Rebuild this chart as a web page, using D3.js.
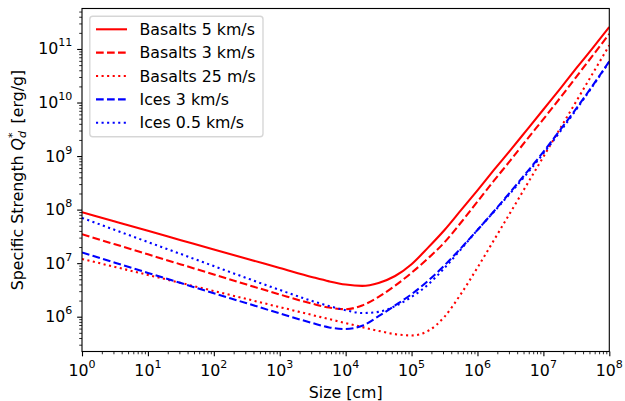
<!DOCTYPE html>
<html><head><meta charset="utf-8">
<script src="https://cdn.jsdelivr.net/npm/d3@7"></script>
<style>
body{margin:0;background:#fff}
text{font-family:"DejaVu Sans",sans-serif;fill:#000}
</style>
</head><body>
<svg id="c" width="625" height="401"></svg>
<script>
// Size [cm]
const sizes = [1, 3.162, 10, 31.62, 100, 316.2, 1000, 3162, 5623, 1e4, 17780, 31620, 56230, 1e5,
  177800, 316200, 562300, 1e6, 1.778e6, 3.162e6, 5.623e6, 1e7, 1.778e7, 3.162e7, 5.623e7, 1e8];
// Specific strength Q*_d [erg/g]
const basalt5kms = [8.95e7, 6.00e7, 4.02e7, 2.69e7, 1.80e7, 1.208e7, 8.13e6, 5.46e6, 4.57e6, 3.98e6, 3.76e6,
  4.27e6, 5.75e6, 9.55e6, 1.95e7, 4.17e7, 9.77e7, 2.29e8, 5.50e8, 1.29e9, 3.09e9, 7.41e9, 1.78e10, 4.37e10, 1.05e11, 2.57e11];
const basalt3kms = [3.47e7, 2.25e7, 1.46e7, 9.48e6, 6.17e6, 3.98e6, 2.60e6, 1.74e6, 1.48e6, 1.38e6, 1.62e6,
  2.34e6, 3.80e6, 6.61e6, 1.23e7, 2.45e7, 5.75e7, 1.41e8, 3.47e8, 8.32e8, 2.04e9, 4.90e9, 1.20e10, 3.02e10, 7.59e10, 1.91e11];
const basalt25ms = [1.20e7, 8.51e6, 6.03e6, 4.27e6, 3.02e6, 2.14e6, 1.51e6, 1.07e6, 9.02e5, 7.59e5, 6.40e5,
  5.43e5, 4.72e5, 4.47e5, 5.42e5, 1.00e6, 2.67e6, 8.26e6, 2.69e7, 8.87e7, 2.93e8, 9.70e8, 3.21e9, 1.06e10, 3.52e10, 1.17e11];
const ice3kms = [1.58e7, 1.02e7, 6.58e6, 4.25e6, 2.74e6, 1.78e6, 1.15e6, 7.59e5, 6.31e5, 5.89e5, 6.76e5,
  1.02e6, 1.62e6, 2.63e6, 4.68e6, 9.12e6, 1.91e7, 4.17e7, 9.33e7, 2.14e8, 5.01e8, 1.20e9, 3.02e9, 7.76e9, 2.09e10, 5.89e10];
const ice05kms = [7.00e7, 4.17e7, 2.48e7, 1.48e7, 8.81e6, 5.25e6, 3.16e6, 1.95e6, 1.58e6, 1.32e6, 1.17e6,
  1.23e6, 1.58e6, 2.34e6, 3.98e6, 8.13e6, 1.82e7, 4.17e7, 9.12e7, 2.04e8, 4.68e8, 1.12e9, 2.82e9, 7.41e9, 2.04e10, 5.75e10];

const seriesLabels = ["Basalts 5 km/s", "Basalts 3 km/s", "Basalts 25 m/s", "Ices 3 km/s", "Ices 0.5 km/s"];
const xTickExponents = [0, 1, 2, 3, 4, 5, 6, 7, 8];
const yTickExponents = [6, 7, 8, 9, 10, 11];
const xLabel = "Size [cm]";

const series = [
  {label: seriesLabels[0], values: basalt5kms, color: "#ff0000", dash: null},
  {label: seriesLabels[1], values: basalt3kms, color: "#ff0000", dash: "7.7,3.3"},
  {label: seriesLabels[2], values: basalt25ms, color: "#ff0000", dash: "2.1,3.45"},
  {label: seriesLabels[3], values: ice3kms, color: "#0000ff", dash: "7.7,3.3"},
  {label: seriesLabels[4], values: ice05kms, color: "#0000ff", dash: "2.1,3.45"}
];

const FS = 15.8;
const L = 82, R = 609.3, T = 8.5, B = 351.5;
const svg = d3.select("#c");

const x = d3.scaleLog().domain([1, 1e8]).range([L, R]);
const y = d3.scaleLog().domain([Math.pow(10, 5.35), Math.pow(10, 11.756)]).range([B, T]);

const xMinor = [];
for (let e = 0; e < 8; e++) for (let k = 2; k <= 9; k++) xMinor.push(k * Math.pow(10, e));
const yMinor = [];
for (let e = 5; e <= 11; e++) for (let k = 2; k <= 9; k++) {
  const v = k * Math.pow(10, e);
  if (v >= y.domain()[0] && v <= y.domain()[1]) yMinor.push(v);
}
const xMajor = xTickExponents.map(e => Math.pow(10, e));
const yMajor = yTickExponents.map(e => Math.pow(10, e));

svg.append("defs").append("clipPath").attr("id", "clip")
  .append("rect").attr("x", L).attr("y", T).attr("width", R - L).attr("height", B - T);

const line = d3.line().x(d => x(d[0])).y(d => y(d[1])).curve(d3.curveMonotoneX);
const gLines = svg.append("g").attr("clip-path", "url(#clip)");
series.forEach(s => {
  gLines.append("path")
    .attr("d", line(sizes.map((v, i) => [v, s.values[i]])))
    .attr("fill", "none").attr("stroke", s.color).attr("stroke-width", 2.08)
    .attr("stroke-dasharray", s.dash).attr("stroke-linecap", "butt").attr("stroke-linejoin", "round");
});

function styleAxis(g, w) {
  g.select(".domain").remove();
  g.selectAll(".tick line").attr("stroke", "#000").attr("stroke-width", w);
  g.selectAll(".tick text").remove();
}
svg.append("g").attr("transform", `translate(0,${B})`)
  .call(d3.axisBottom(x).tickValues(xMajor).tickSize(4.86).tickFormat(""))
  .call(g => styleAxis(g, 1.11));
svg.append("g").attr("transform", `translate(0,${B})`)
  .call(d3.axisBottom(x).tickValues(xMinor).tickSize(2.78).tickFormat(""))
  .call(g => styleAxis(g, 0.83));
svg.append("g").attr("transform", `translate(${L},0)`)
  .call(d3.axisLeft(y).tickValues(yMajor).tickSize(4.86).tickFormat(""))
  .call(g => styleAxis(g, 1.11));
svg.append("g").attr("transform", `translate(${L},0)`)
  .call(d3.axisLeft(y).tickValues(yMinor).tickSize(2.78).tickFormat(""))
  .call(g => styleAxis(g, 0.83));

svg.append("rect").attr("x", L).attr("y", T).attr("width", R - L).attr("height", B - T)
  .attr("fill", "none").attr("stroke", "#000").attr("stroke-width", 1.11);

xTickExponents.forEach((e, i) => {
  const t = svg.append("text").attr("x", x(xMajor[i])).attr("y", 375.7)
    .attr("text-anchor", "middle").attr("font-size", FS);
  t.append("tspan").text("10");
  t.append("tspan").attr("font-size", FS * 0.7).attr("dy", -8).text(e);
});
yTickExponents.forEach((e, i) => {
  const t = svg.append("text").attr("x", 72.3).attr("y", y(yMajor[i]) + 5.5)
    .attr("text-anchor", "end").attr("font-size", FS);
  t.append("tspan").text("10");
  t.append("tspan").attr("font-size", FS * 0.7).attr("dy", -8).text(e);
});

svg.append("text").attr("x", (L + R) / 2).attr("y", 398.3).attr("text-anchor", "middle")
  .attr("font-size", FS).text(xLabel);
const yl = svg.append("text").attr("transform", `translate(23.3,${(T + B) / 2}) rotate(-90)`)
  .attr("text-anchor", "middle").attr("font-size", FS);
yl.append("tspan").text("Specific Strength ");
yl.append("tspan").attr("font-style", "italic").text("Q");
yl.append("tspan").attr("font-style", "italic").attr("font-size", FS * 0.7).attr("dy", 3).text("d");
yl.append("tspan").attr("font-size", FS * 0.7).attr("dx", -7).attr("dy", -10).text("*");
yl.append("tspan").attr("dx", 9).attr("dy", 7).text("[erg/g]");

const lg = svg.append("g");
lg.append("rect").attr("x", 89.8).attr("y", 16.3).attr("width", 263 - 89.8).attr("height", 136.7 - 16.3)
  .attr("rx", 3).attr("ry", 3).attr("fill", "#fff").attr("fill-opacity", 0.8)
  .attr("stroke", "#cccccc").attr("stroke-opacity", 0.8).attr("stroke-width", 1.39);
series.forEach((s, i) => {
  const cy = 29.3 + i * 23.35;
  lg.append("line").attr("x1", 96).attr("x2", 127).attr("y1", cy).attr("y2", cy)
    .attr("stroke", s.color).attr("stroke-width", 2.08).attr("stroke-dasharray", s.dash);
  lg.append("text").attr("x", 139.5).attr("y", cy + 5.6).attr("font-size", FS).text(s.label);
});
</script>
</body></html>
